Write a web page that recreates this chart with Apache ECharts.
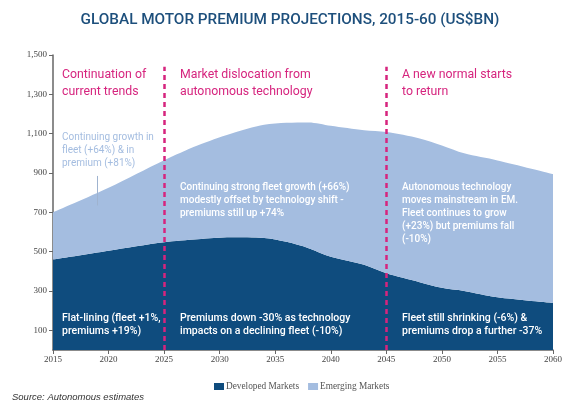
<!DOCTYPE html>
<html><head><meta charset="utf-8">
<script src="https://cdn.jsdelivr.net/npm/echarts@6/dist/echarts.min.js"></script>
<style>html,body{margin:0;padding:0;background:#fff}#c{width:580px;height:405px}</style>
</head><body><div id="c"></div>
<script>
var years     = [2015, 2020, 2025, 2028, 2031, 2034, 2036, 2038, 2040, 2043, 2045, 2048, 2050, 2052, 2055, 2060];
var developed = [460,  505,  548,  563,  573,  570,  550,  518,  474,  433,  390,  345,  316,  300,  268,  239];
var emerging  = [240,  320,  417,  477,  527,  575,  605,  639,  666,  684,  718,  731,  724,  700,  696,  656];
var yTicks = [100, 300, 500, 700, 900, 1100, 1300, 1500];
var phaseYears = [2025, 2045];

var chart = echarts.init(document.getElementById('c'), null, {renderer: 'canvas'});
var mag = '#d6247e';
var F = 'Roboto, "Liberation Sans", sans-serif';
// value first so that the stack is applied on the y (value) dimension
function pair(arr){ return years.map(function(y,i){ return [arr[i], y]; }); }
function txt(x, y, t, size, color, lh, w){
  return {type:'text', left:x, top:y, z:100, style:{text:t, font: (w||'normal')+' '+size+'px '+F, fill:color, lineHeight:lh}};
}
chart.setOption({
  animation: false,
  title: {text: 'GLOBAL MOTOR PREMIUM PROJECTIONS, 2015-60 (US$BN)', left: 'center', top: 8,
    textStyle: {color: '#1d4f7c', fontSize: 15.3, fontWeight: 500, fontFamily: F}},
  grid: {left: 53, right: 27, top: 55, bottom: 55},
  legend: {bottom: 9, left: 209, itemWidth: 10, itemHeight: 7, itemGap: 9,
    icon: 'rect',
    textStyle: {fontFamily: '"Liberation Serif", serif', fontSize: 9.3, color: '#555', padding: [0, 0, 0, -3]},
    data: ['Developed Markets', 'Emerging Markets']},
  xAxis: {type: 'value', min: 2015, max: 2060, interval: 5,
    axisLine: {lineStyle: {color: '#666', width: 1.5}},
    axisTick: {length: 4, lineStyle: {color: '#666'}},
    axisLabel: {color: '#444', fontSize: 9, fontFamily: '"Liberation Serif", serif', margin: 5,
      formatter: function(v){ return String(v); }},
    splitLine: {show: false}},
  yAxis: {type: 'value', min: 0, max: 1500,
    axisLine: {show: true, lineStyle: {color: '#666', width: 1.5}},
    axisTick: {show: true, length: 4, customValues: yTicks, lineStyle: {color: '#666'}},
    axisLabel: {customValues: yTicks, color: '#444', fontSize: 9, fontFamily: '"Liberation Serif", serif', margin: 6,
      formatter: function(v){ return v.toLocaleString('en-US'); }},
    splitLine: {show: false}},
  series: [
    {name: 'Developed Markets', type: 'line', stack: 't', data: pair(developed), encode: {x: 1, y: 0},
      smooth: 0.3, symbol: 'none',
      lineStyle: {width: 0}, areaStyle: {color: '#0f4c7e', opacity: 1}, itemStyle: {color: '#0f4c7e'}},
    {name: 'Emerging Markets', type: 'line', stack: 't', data: pair(emerging), encode: {x: 1, y: 0},
      smooth: 0.3, symbol: 'none',
      lineStyle: {width: 0}, areaStyle: {color: '#a4bde0', opacity: 1}, itemStyle: {color: '#a4bde0'}},
    {name: 'marks', type: 'line', data: [], z: 5, silent: true,
      markLine: {symbol: 'none', silent: true, label: {show: false},
        lineStyle: {color: mag, type: [5, 4], width: 2.5},
        data: phaseYears.map(function(y){ return [{coord: [y, 0]}, {coord: [y, 1440]}]; })
          .concat([[{coord: [2019, 735], lineStyle: {color: '#9fb3cf', type: 'solid', width: 1}},
                    {coord: [2019, 885]}]])}}
  ],
  graphic: [
    txt(62, 67, 'Continuation of\ncurrent trends', 12.3, mag, 16.5),
    txt(180, 67, 'Market dislocation from\nautonomous technology', 12.3, mag, 16.5),
    txt(402, 67, 'A new normal starts\nto return', 12.3, mag, 16.5),
    txt(62, 131, 'Continuing growth in\nfleet (+64%) & in\npremium (+81%)', 10, '#a4bde0', 12.8),
    txt(180, 181, 'Continuing strong fleet growth (+66%)\nmodestly offset by technology shift -\npremiums still up +74%', 10, '#ffffff', 13, 500),
    txt(402, 181, 'Autonomous technology\nmoves mainstream in EM.\nFleet continues to grow\n(+23%) but premiums fall\n(-10%)', 10, '#ffffff', 13, 500),
    txt(62, 312, 'Flat-lining (fleet +1%,\npremiums +19%)', 10.5, '#ffffff', 13, 500),
    txt(180, 312, 'Premiums down -30% as technology\nimpacts on a declining fleet (-10%)', 10.5, '#ffffff', 13, 500),
    txt(402, 312, 'Fleet still shrinking (-6%) &\npremiums drop a further -37%', 10.5, '#ffffff', 13, 500),
    {type:'text', left: 12, top: 392, style: {text: 'Source: Autonomous estimates', font: 'italic 9.5px "Liberation Sans", sans-serif', fill: '#333'}}
  ]
});
</script></body></html>
